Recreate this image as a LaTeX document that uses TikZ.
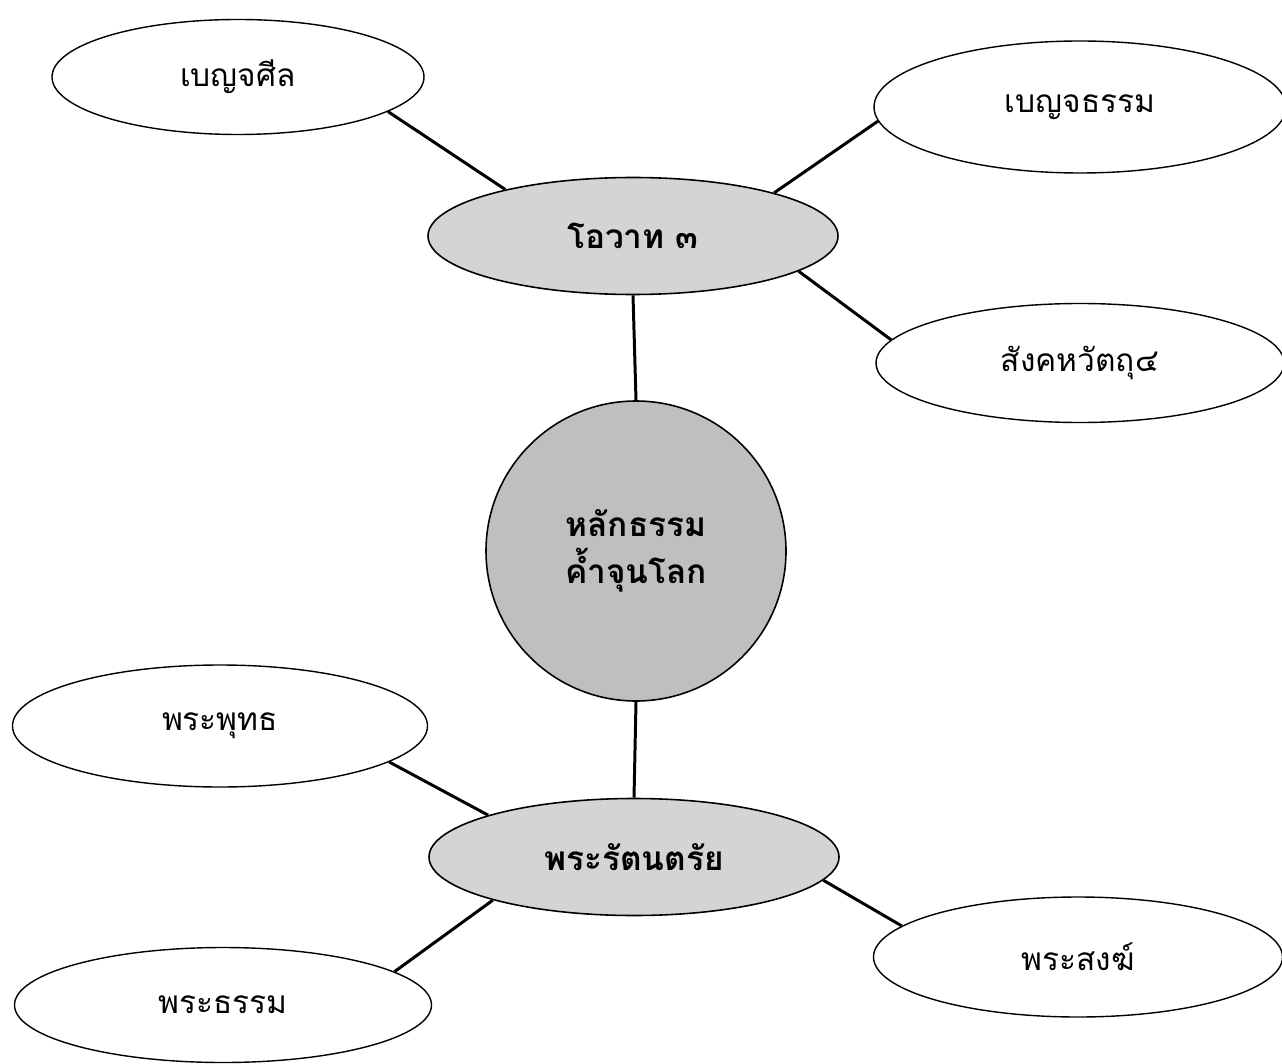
\documentclass[tikz,border=0pt]{standalone}
\usepackage{fontspec}
\newfontfamily\thaifont[Script=Thai]{Loma}
\usetikzlibrary{shapes.geometric}

\begin{document}
\begin{tikzpicture}
  [leaf/.style={ellipse,draw=black,line width=0.8pt,fill=white,inner sep=0pt,
     font=\thaifont\fontsize{18}{22}\selectfont},
   hub/.style={ellipse,draw=black,line width=0.9pt,fill=gray!34,inner sep=0pt,
     minimum width=8.2cm,minimum height=2.34cm,
     font=\thaifont\bfseries\fontsize{19}{23}\selectfont},
   core/.style={circle,draw=black,line width=0.9pt,fill=gray!50,minimum size=6cm,
     align=center,font=\thaifont\bfseries\fontsize{19}{27}\selectfont},
   link/.style={line width=1.7pt}]
  \useasboundingbox (0,0) rectangle (25.64,21.26);
  \node[core] (principle) at (12.72,10.24) {หลักธรรม\\ค้ำจุนโลก};
  \node[hub] (ovat) at (12.66,16.54) {โอวาท ๓};
  \node[hub] (ratana) at (12.68,4.12) {พระรัตนตรัย};
  \node[leaf,minimum width=7.44cm,minimum height=2.3cm] (sila) at (4.76,19.72) {เบญจศีล};
  \node[leaf,minimum width=8.24cm,minimum height=2.64cm] (dhamma5) at (21.60,19.12) {เบญจธรรม};
  \node[leaf,minimum width=8.16cm,minimum height=2.38cm] (sangaha) at (21.60,14.00) {สังคหวัตถุ๔};
  \node[leaf,minimum width=8.3cm,minimum height=2.44cm] (buddha) at (4.40,6.74) {พระพุทธ};
  \node[leaf,minimum width=8.34cm,minimum height=2.3cm] (dhamma) at (4.46,1.16) {พระธรรม};
  \node[leaf,minimum width=8.18cm,minimum height=2.4cm] (sangha) at (21.56,2.12) {พระสงฆ์};
  \draw [link] (ovat.south) -- (principle.north);
  \draw [link] (principle.south) -- (ratana.north);
  \draw [link] (sila.-13) -- (ovat.160);
  \draw [link] (ovat.17) -- (dhamma5.184);
  \draw [link] (ovat.-12) -- (sangaha.173);
  \draw [link] (buddha.-12) -- (ratana.164);
  \draw [link] (dhamma.11) -- (ratana.197);
  \draw [link] (ratana.-7) -- (sangha.170);
\end{tikzpicture}
\end{document}
